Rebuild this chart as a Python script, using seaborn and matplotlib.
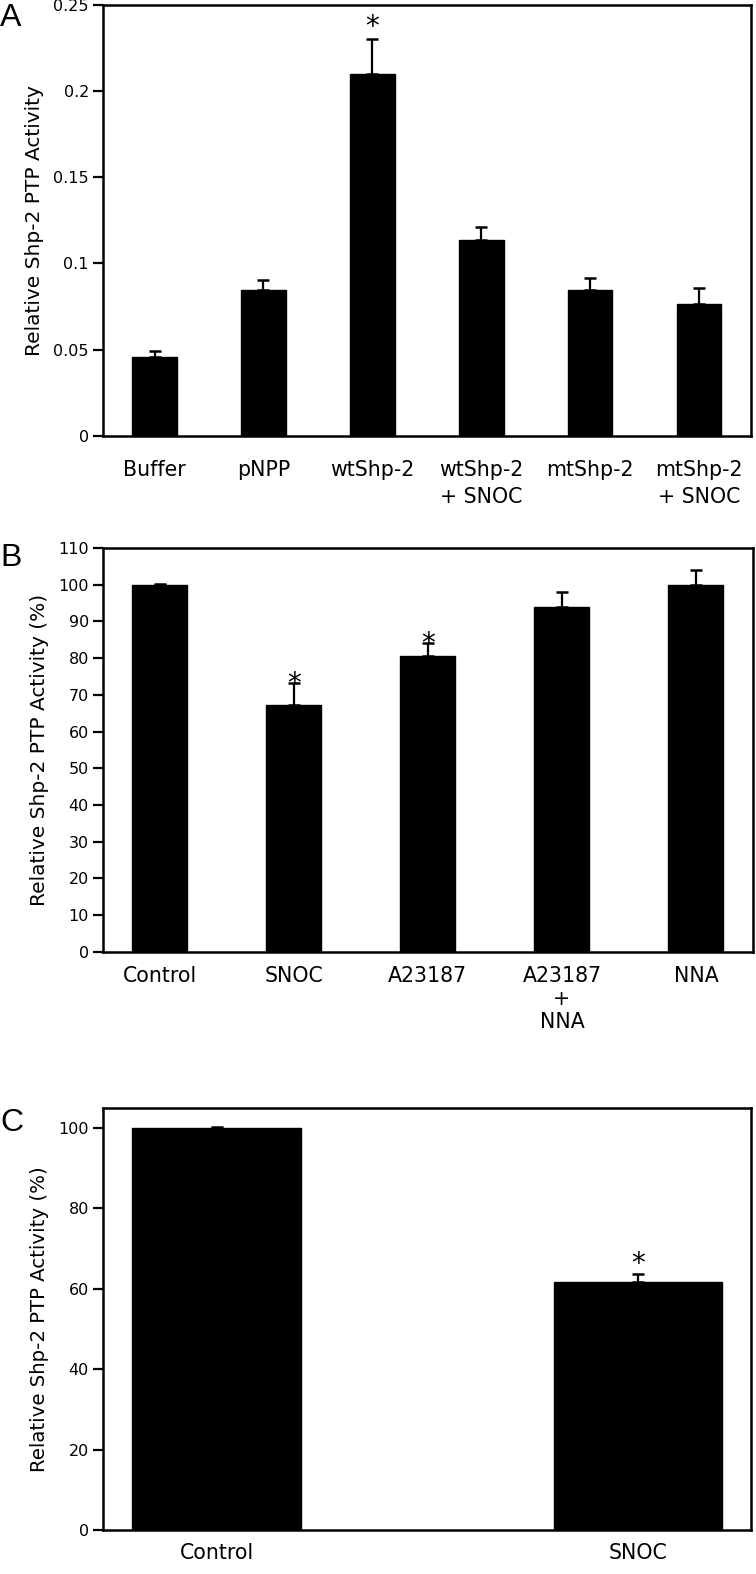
import numpy as np
import matplotlib
matplotlib.use("Agg")
import matplotlib.pyplot as plt
import seaborn as sns

# Panel A data
cats_a = ["Buffer", "pNPP", "wtShp-2", "wtShp-2\n+ SNOC", "mtShp-2", "mtShp-2\n+ SNOC"]
vals_a = [0.0458, 0.0848, 0.210, 0.1138, 0.0848, 0.0767]
errs_a = [0.0035, 0.0058, 0.020, 0.0073, 0.0068, 0.0089]
stars_a = [False, False, True, False, False, False]

# Panel B data
cats_b = ["Control", "SNOC", "A23187", "A23187\n+\nNNA", "NNA"]
vals_b = [100.0, 67.3, 80.5, 93.8, 100.0]
errs_b = [0.3, 5.9, 3.6, 4.2, 4.1]
stars_b = [False, True, True, False, False]

# Panel C data
cats_c = ["Control", "SNOC"]
vals_c = [100.0, 61.7]
errs_c = [0.3, 2.1]
stars_c = [False, True]

sns.set_theme(style="white")
plt.rcParams["font.family"] = ["DejaVu Sans"]
plt.rcParams["text.color"] = "black"
plt.rcParams["axes.labelcolor"] = "black"
plt.rcParams["xtick.color"] = "black"
plt.rcParams["ytick.color"] = "black"

fig = plt.figure(figsize=(7.56, 15.74), dpi=100)


def draw_panel(rect, cats, vals, errs, stars, ylim, yticks, ytl, ylabel, width,
               xpad, ylfs, star_off, lsp):
    ax = fig.add_axes(rect)
    sns.barplot(x=cats, y=vals, color="black", width=width, saturation=1,
                edgecolor="black", ax=ax)
    pos = np.arange(len(cats))
    ax.errorbar(pos, vals, yerr=[np.zeros(len(errs)), errs], fmt="none",
                ecolor="black", elinewidth=1.6, capsize=4.5, capthick=1.8)
    for i, s in enumerate(stars):
        if s:
            ax.annotate("*", xy=(i, vals[i] + errs[i]), xytext=(0, star_off),
                        textcoords="offset points", ha="center", va="center",
                        fontsize=20, color="black")
    ax.set_ylim(*ylim)
    ax.set_yticks(yticks)
    ax.set_yticklabels(ytl, fontsize=11.5)
    ax.set_xticks(pos)
    ax.set_xticklabels(cats, fontsize=14.8, linespacing=lsp)
    ax.set_xlabel("")
    ax.set_ylabel(ylabel, fontsize=ylfs, labelpad=7)
    ax.tick_params(axis="x", length=0, pad=xpad)
    ax.tick_params(axis="y", left=True, length=7, width=1.6, direction="out", pad=3)
    for sp in ax.spines.values():
        sp.set_visible(True)
        sp.set_color("black")
        sp.set_linewidth(1.8)
    return ax


ax_a = draw_panel([0.136, 0.723, 0.857, 0.2741], cats_a, vals_a, errs_a, stars_a,
                  (0, 0.25), [0, 0.05, 0.1, 0.15, 0.2, 0.25],
                  ["0", "0.05", "0.1", "0.15", "0.2", "0.25"],
                  "Relative Shp-2 PTP Activity", 0.41, 17, 14.5, 8.5, 1.45)
ax_b = draw_panel([0.136, 0.3952, 0.860, 0.2567], cats_b, vals_b, errs_b, stars_b,
                  (0, 110), list(range(0, 111, 10)),
                  [str(v) for v in range(0, 111, 10)],
                  "Relative Shp-2 PTP Activity (%)", 0.41, 10, 14.5, -1, 1.2)
ax_c = draw_panel([0.136, 0.02795, 0.858, 0.2681], cats_c, vals_c, errs_c, stars_c,
                  (0, 105), [0, 20, 40, 60, 80, 100],
                  ["0", "20", "40", "60", "80", "100"],
                  "Relative Shp-2 PTP Activity (%)", 0.40, 9, 14.2, 7, 1.2)

for lab, y in [("A", 1 - 18 / 1574), ("B", 1 - 558 / 1574), ("C", 1 - 1123 / 1574)]:
    fig.text(0.0, y, lab, fontsize=23, family="Liberation Sans", va="center", ha="left")

fig.savefig("out.png", dpi=100)
